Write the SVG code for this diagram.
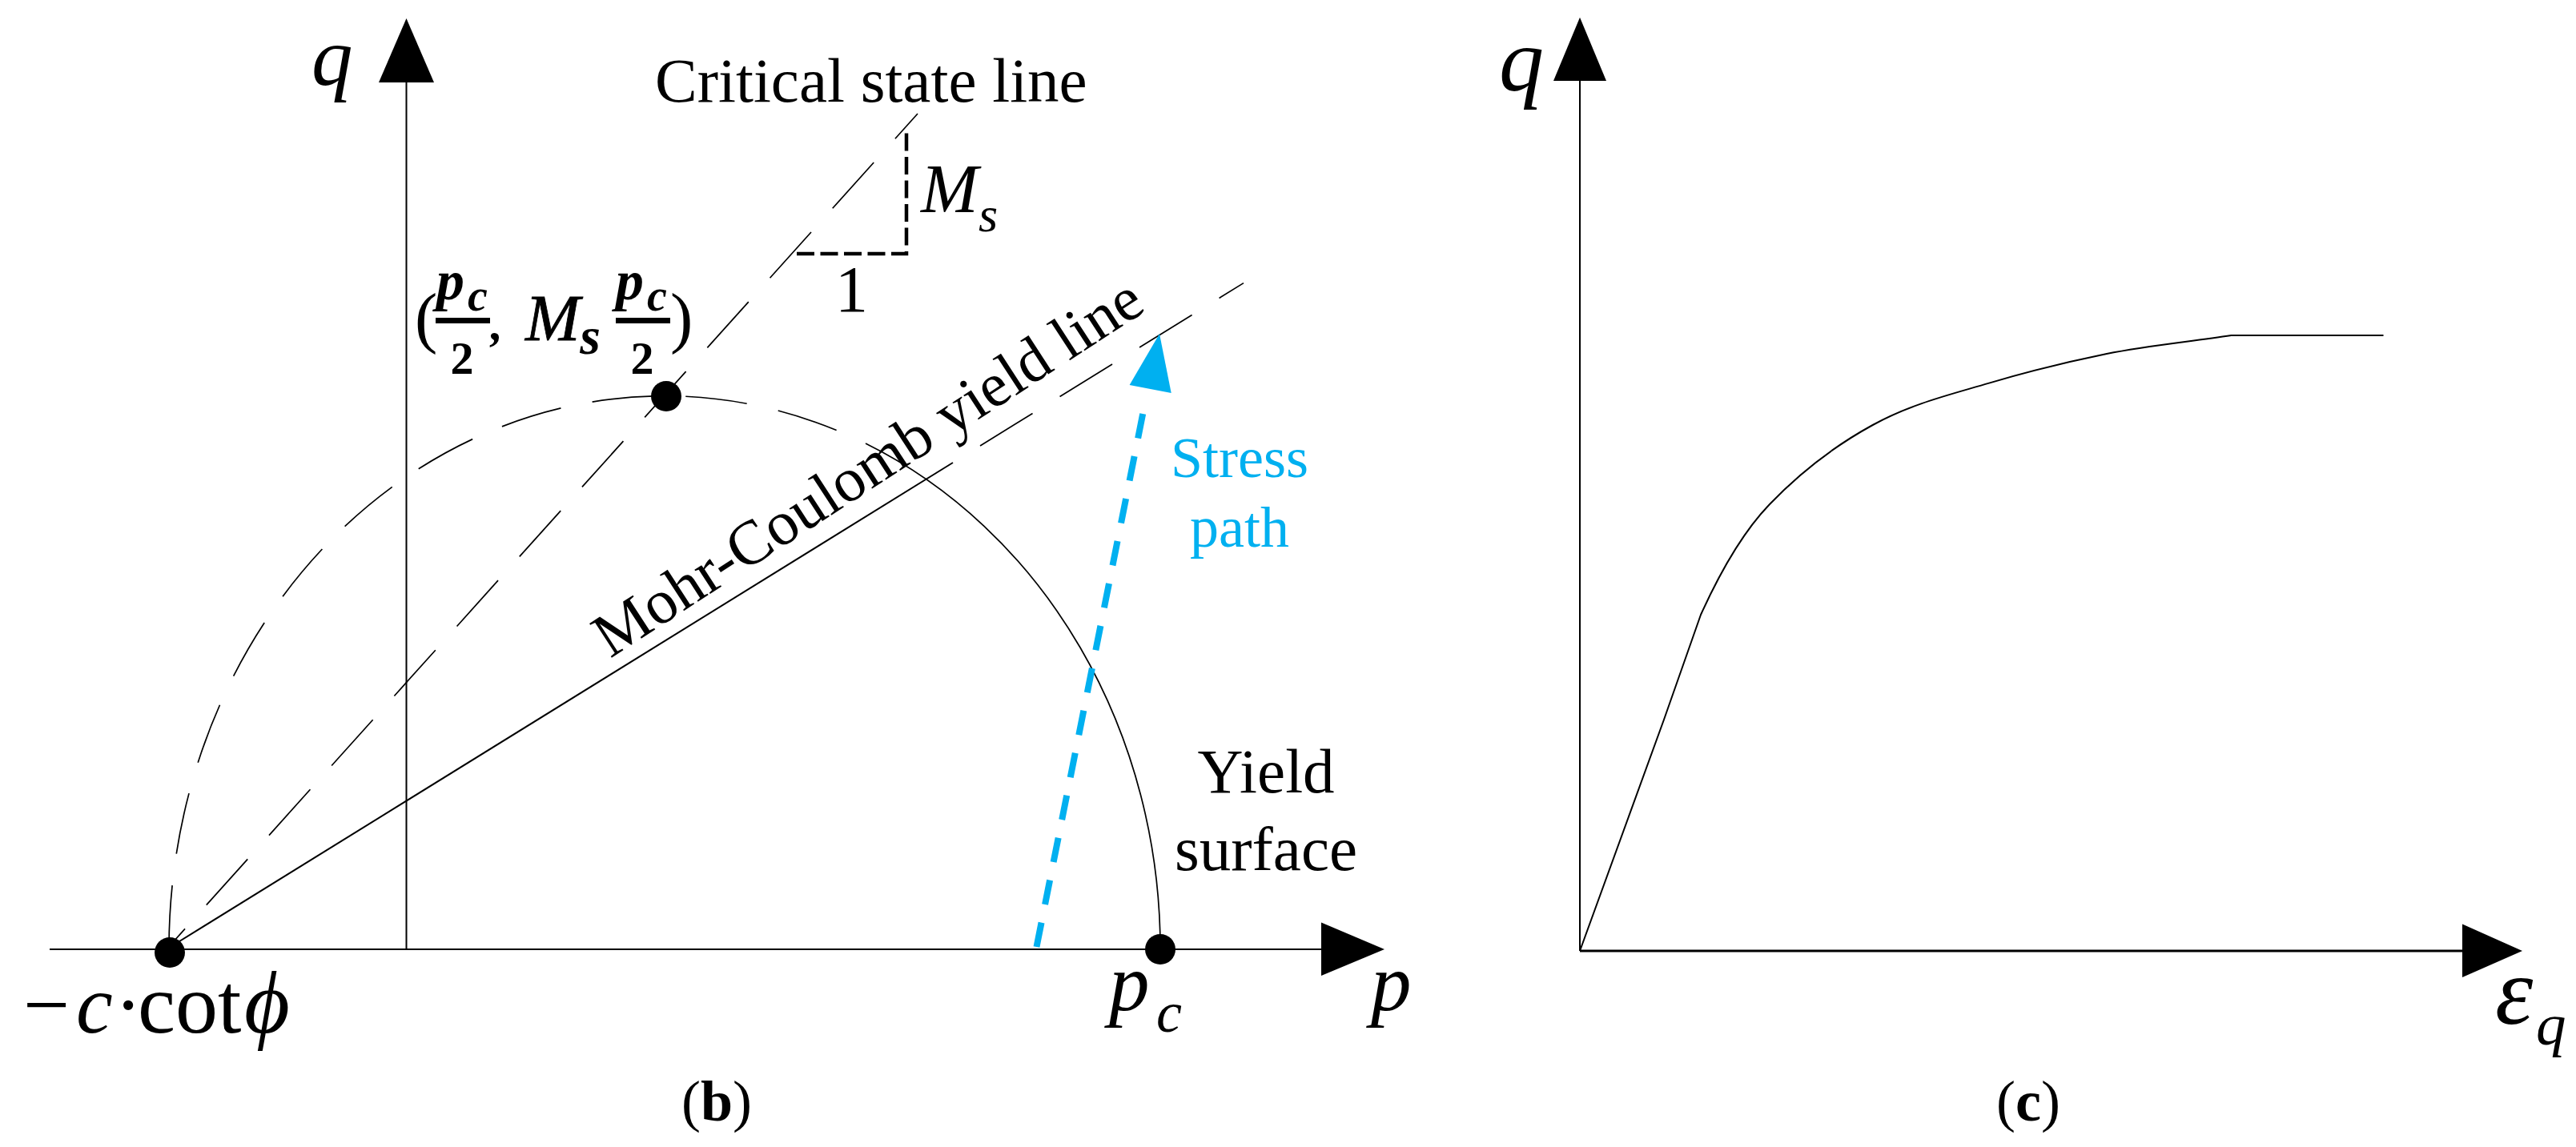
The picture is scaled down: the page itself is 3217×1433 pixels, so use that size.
<svg xmlns="http://www.w3.org/2000/svg" width="3217" height="1433" viewBox="0 0 3217 1433">
<style>
text{font-family:"Liberation Serif","Times New Roman",serif;fill:#000}
.t{font-size:79px}
.i{font-style:italic}
.m{font-style:italic;font-weight:bold}
.b{stroke:#000;stroke-width:.8px}
.c{text-anchor:middle}
.l{fill:none;stroke:#000;stroke-width:2}
.f{stroke-width:1.7}
.d{stroke-dasharray:77 40}
.h{fill:#000;stroke:none}
.s{fill:#00B0F0}
</style>
<rect width="3217" height="1433" fill="#fff"/>
<g id="connectors">
<path class="l" d="M507.5 103V1186"/>
<path class="l" d="M62 1186H1650"/>
<path class="l" d="M208 1186L1190 578"/>
<path class="l f d" style="stroke-dashoffset:77" d="M1190 578L1553 353.6"/>
<path class="l f d" style="stroke-dashoffset:35" d="M1146 142L208 1186"/>
<path class="l f" d="M1081 554A619 691 0 0 1 1449 1186"/>
<path class="l f d" style="stroke-dashoffset:77" d="M1081 554A619 691 0 0 0 211 1186"/>
<path class="l" style="stroke-width:4.5;stroke-dasharray:22 7.5" d="M995 317H1132V163"/>
<path fill="none" stroke="#00B0F0" stroke-width="8" stroke-dasharray="31 23" d="M1294.5 1183L1431 498"/>
<path class="l" d="M1973 101V1188"/>
<path class="l" style="stroke-width:3" d="M1973 1188H3075"/>
<path class="l" d="M1973 1188L2078 899L2124 768C2153 704 2181 660 2210 630C2253 585 2295.7 554.6 2338.7 531C2387 504.4 2435.6 493 2484 478.6C2533 464 2582 452 2631 442C2683 431.7 2734.7 427 2786.5 419H2976.5"/>
</g>
<g id="arrowheads">
<polygon class="h" points="507.5,23 473,103 542,103"/>
<polygon class="h" points="1729,1186 1650,1152.5 1650,1219"/>
<polygon class="s" points="1448,417 1410.6,481 1462.7,491"/>
<polygon class="h" points="1973,21.7 1940,101 2006,101"/>
<polygon class="h" points="3150,1188 3075,1154.4 3075,1221"/>
</g>
<g id="dot-c-cot"><circle class="h" cx="212" cy="1190" r="19"/></g>
<g id="dot-peak"><circle class="h" cx="832" cy="495" r="19"/></g>
<g id="dot-pc"><circle class="h" cx="1449" cy="1186" r="19"/></g>
<g id="label-q-b"><text class="i" x="389" y="106" font-size="103">q</text></g>
<g id="label-critical"><text class="t" x="818" y="127">Critical state line</text></g>
<g id="label-peak">
<text x="518" y="425" font-size="85">(</text>
<text class="m" x="545" y="374" font-size="70">p</text>
<text class="m" x="584" y="388" font-size="56">c</text>
<rect class="h" x="544" y="397" width="68" height="7"/>
<text class="c" style="font-weight:bold" x="577" y="467" font-size="58">2</text>
<text class="m" x="613" y="425" font-size="60">,</text>
<text class="i b" x="656" y="425" font-size="82">M<tspan class="m" dy="17" font-size="66" style="stroke:none">s</tspan></text>
<text class="m" x="769" y="374" font-size="70">p</text>
<text class="m" x="808" y="388" font-size="56">c</text>
<rect class="h" x="769" y="397" width="68" height="7"/>
<text class="c" style="font-weight:bold" x="802" y="467" font-size="58">2</text>
<text x="837" y="425" font-size="85">)</text>
</g>
<g id="label-ms">
<text class="i" x="1150" y="265" font-size="86">M</text>
<text class="i" x="1222" y="289" font-size="62">s</text>
</g>
<g id="label-one"><text x="1043" y="389" font-size="82">1</text></g>
<g id="label-mohr"><text transform="translate(762 823) rotate(-33)" font-size="78">Mohr-Coulomb yield line</text></g>
<g id="label-stress">
<text class="c" style="fill:#00B0F0" x="1548" y="596" font-size="72">Stress</text>
<text class="c" style="fill:#00B0F0" x="1548" y="683" font-size="72">path</text>
</g>
<g id="label-yield">
<text class="t c" x="1581" y="990">Yield</text>
<text class="t c" x="1581" y="1087">surface</text>
</g>
<g id="label-ccot">
<text y="1290" font-size="103"><tspan x="29">−</tspan><tspan class="i" x="95">c</tspan><tspan x="143">·</tspan><tspan x="172" font-size="106">cot</tspan><tspan class="i" x="305" font-size="110">ϕ</tspan></text>
</g>
<g id="label-pc">
<text class="i" x="1385" y="1262" font-size="101">p</text>
<text class="i" x="1444" y="1289" font-size="72">c</text>
</g>
<g id="label-p"><text class="i" x="1712" y="1262" font-size="101">p</text></g>
<g id="label-b"><text class="c" x="895" y="1400" font-size="72">(<tspan font-weight="bold">b</tspan>)</text></g>
<g id="label-q-c"><text class="i" x="1872" y="113" font-size="112">q</text></g>
<g id="label-eps">
<text class="i" x="3116" y="1279" font-size="120">ε</text>
<text class="i" x="3167" y="1305" font-size="75">q</text>
</g>
<g id="label-c"><text class="c" x="2533" y="1400" font-size="72">(<tspan font-weight="bold">c</tspan>)</text></g>
</svg>
